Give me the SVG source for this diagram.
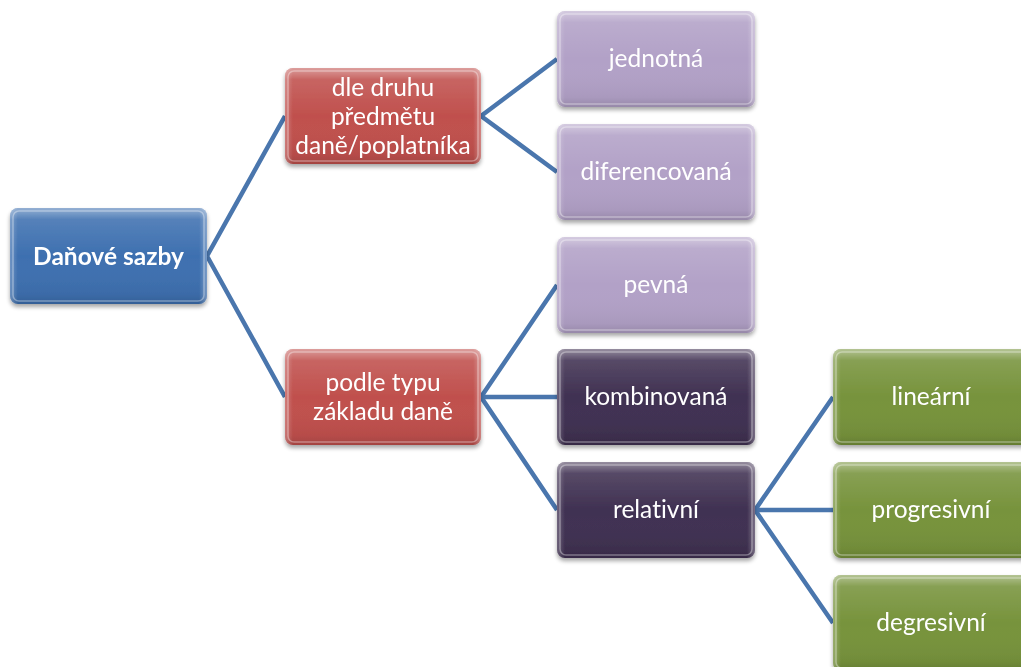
<svg xmlns="http://www.w3.org/2000/svg" width="1021" height="667" viewBox="0 0 1021 667">
<defs>
<linearGradient id="gloss" x1="0" y1="0" x2="0" y2="1">
<stop offset="0" stop-color="#fff" stop-opacity="0.45"/>
<stop offset="0.12" stop-color="#fff" stop-opacity="0.12"/>
<stop offset="0.5" stop-color="#fff" stop-opacity="0"/>
<stop offset="0.9" stop-color="#000" stop-opacity="0.05"/>
<stop offset="1" stop-color="#000" stop-opacity="0.15"/>
</linearGradient>
<linearGradient id="side" x1="0" y1="0" x2="1" y2="0">
<stop offset="0" stop-color="#fff" stop-opacity="0.25"/>
<stop offset="0.04" stop-color="#fff" stop-opacity="0"/>
<stop offset="0.96" stop-color="#fff" stop-opacity="0"/>
<stop offset="1" stop-color="#fff" stop-opacity="0.3"/>
</linearGradient>
<filter id="sh" x="-10%" y="-10%" width="120%" height="130%">
<feGaussianBlur in="SourceAlpha" stdDeviation="2"/>
<feOffset dy="3" result="b"/>
<feComponentTransfer><feFuncA type="linear" slope="0.35"/></feComponentTransfer>
<feMerge><feMergeNode/><feMergeNode in="SourceGraphic"/></feMerge>
</filter>
</defs>
<style>
.box{filter:url(#sh)}
.gl{fill:url(#gloss)}
.sd{fill:url(#side)}
.hl{fill:none;stroke:#fff;stroke-opacity:0.35;stroke-width:1.5}
.t{font-family:Lato,"Open Sans",sans-serif;font-size:24.5px;fill:#fff;text-anchor:middle;font-variant-ligatures:none}
.b{font-weight:bold}
.blue{fill:#3e70b0}
.red{fill:#c0504d}
.lp{fill:#b2a1c7}
.dp{fill:#403152}
.gr{fill:#77933c}
.c{fill:none;stroke:#4a76ad;stroke-width:4.5}
</style>
<g id="connectors">
<path class="c" d="M207,256 L285,116 M207,256 L285,397"/>
<path class="c" d="M481,116 L557,59 M481,116 L557,172"/>
<path class="c" d="M481,397 L557,285 M481,397 L557,397 M481,397 L557,510"/>
<path class="c" d="M755,510 L833,397 M755,510 L833,510 M755,510 L833,623"/>
</g>
<g id="n-root" class="box"><rect class="blue" x="10" y="208" width="197" height="96" rx="8"/><rect class="gl" x="10" y="208" width="197" height="96" rx="8"/><rect class="sd" x="10" y="208" width="197" height="96" rx="8"/><rect class="hl" x="13" y="211" width="191" height="90" rx="6"/><text class="t b" x="108.5" y="265">Daňové sazby</text></g>
<g id="n-druh" class="box"><rect class="red" x="285" y="68" width="196" height="96" rx="8"/><rect class="gl" x="285" y="68" width="196" height="96" rx="8"/><rect class="sd" x="285" y="68" width="196" height="96" rx="8"/><rect class="hl" x="288" y="71" width="190" height="90" rx="6"/><text class="t" x="383" y="96">dle druhu</text><text class="t" x="383" y="125">předmětu</text><text class="t" x="383" y="154">daně/poplatníka</text></g>
<g id="n-typ" class="box"><rect class="red" x="285" y="349" width="196" height="96" rx="8"/><rect class="gl" x="285" y="349" width="196" height="96" rx="8"/><rect class="sd" x="285" y="349" width="196" height="96" rx="8"/><rect class="hl" x="288" y="352" width="190" height="90" rx="6"/><text class="t" x="383" y="391">podle typu</text><text class="t" x="383" y="420">základu daně</text></g>
<g id="n-jednotna" class="box"><rect class="lp" x="557" y="11" width="198" height="96" rx="8"/><rect class="gl" x="557" y="11" width="198" height="96" rx="8"/><rect class="sd" x="557" y="11" width="198" height="96" rx="8"/><rect class="hl" x="560" y="14" width="192" height="90" rx="6"/><text class="t" x="656" y="67">jednotná</text></g>
<g id="n-diferencovana" class="box"><rect class="lp" x="557" y="124" width="198" height="96" rx="8"/><rect class="gl" x="557" y="124" width="198" height="96" rx="8"/><rect class="sd" x="557" y="124" width="198" height="96" rx="8"/><rect class="hl" x="560" y="127" width="192" height="90" rx="6"/><text class="t" x="656" y="180">diferencovaná</text></g>
<g id="n-pevna" class="box"><rect class="lp" x="557" y="237" width="198" height="96" rx="8"/><rect class="gl" x="557" y="237" width="198" height="96" rx="8"/><rect class="sd" x="557" y="237" width="198" height="96" rx="8"/><rect class="hl" x="560" y="240" width="192" height="90" rx="6"/><text class="t" x="656" y="293">pevná</text></g>
<g id="n-kombinovana" class="box"><rect class="dp" x="557" y="349" width="198" height="96" rx="8"/><rect class="gl" x="557" y="349" width="198" height="96" rx="8"/><rect class="sd" x="557" y="349" width="198" height="96" rx="8"/><rect class="hl" x="560" y="352" width="192" height="90" rx="6"/><text class="t" x="656" y="405">kombinovaná</text></g>
<g id="n-relativni" class="box"><rect class="dp" x="557" y="462" width="198" height="96" rx="8"/><rect class="gl" x="557" y="462" width="198" height="96" rx="8"/><rect class="sd" x="557" y="462" width="198" height="96" rx="8"/><rect class="hl" x="560" y="465" width="192" height="90" rx="6"/><text class="t" x="656" y="518">relativní</text></g>
<g id="n-linearni" class="box"><rect class="gr" x="833" y="349" width="198" height="96" rx="8"/><rect class="gl" x="833" y="349" width="198" height="96" rx="8"/><rect class="sd" x="833" y="349" width="198" height="96" rx="8"/><rect class="hl" x="836" y="352" width="192" height="90" rx="6"/><text class="t" x="931" y="405">lineární</text></g>
<g id="n-progresivni" class="box"><rect class="gr" x="833" y="462" width="198" height="96" rx="8"/><rect class="gl" x="833" y="462" width="198" height="96" rx="8"/><rect class="sd" x="833" y="462" width="198" height="96" rx="8"/><rect class="hl" x="836" y="465" width="192" height="90" rx="6"/><text class="t" x="931" y="518">progresivní</text></g>
<g id="n-degresivni" class="box"><rect class="gr" x="833" y="575" width="198" height="96" rx="8"/><rect class="gl" x="833" y="575" width="198" height="96" rx="8"/><rect class="sd" x="833" y="575" width="198" height="96" rx="8"/><rect class="hl" x="836" y="578" width="192" height="90" rx="6"/><text class="t" x="931" y="631">degresivní</text></g>
</svg>
